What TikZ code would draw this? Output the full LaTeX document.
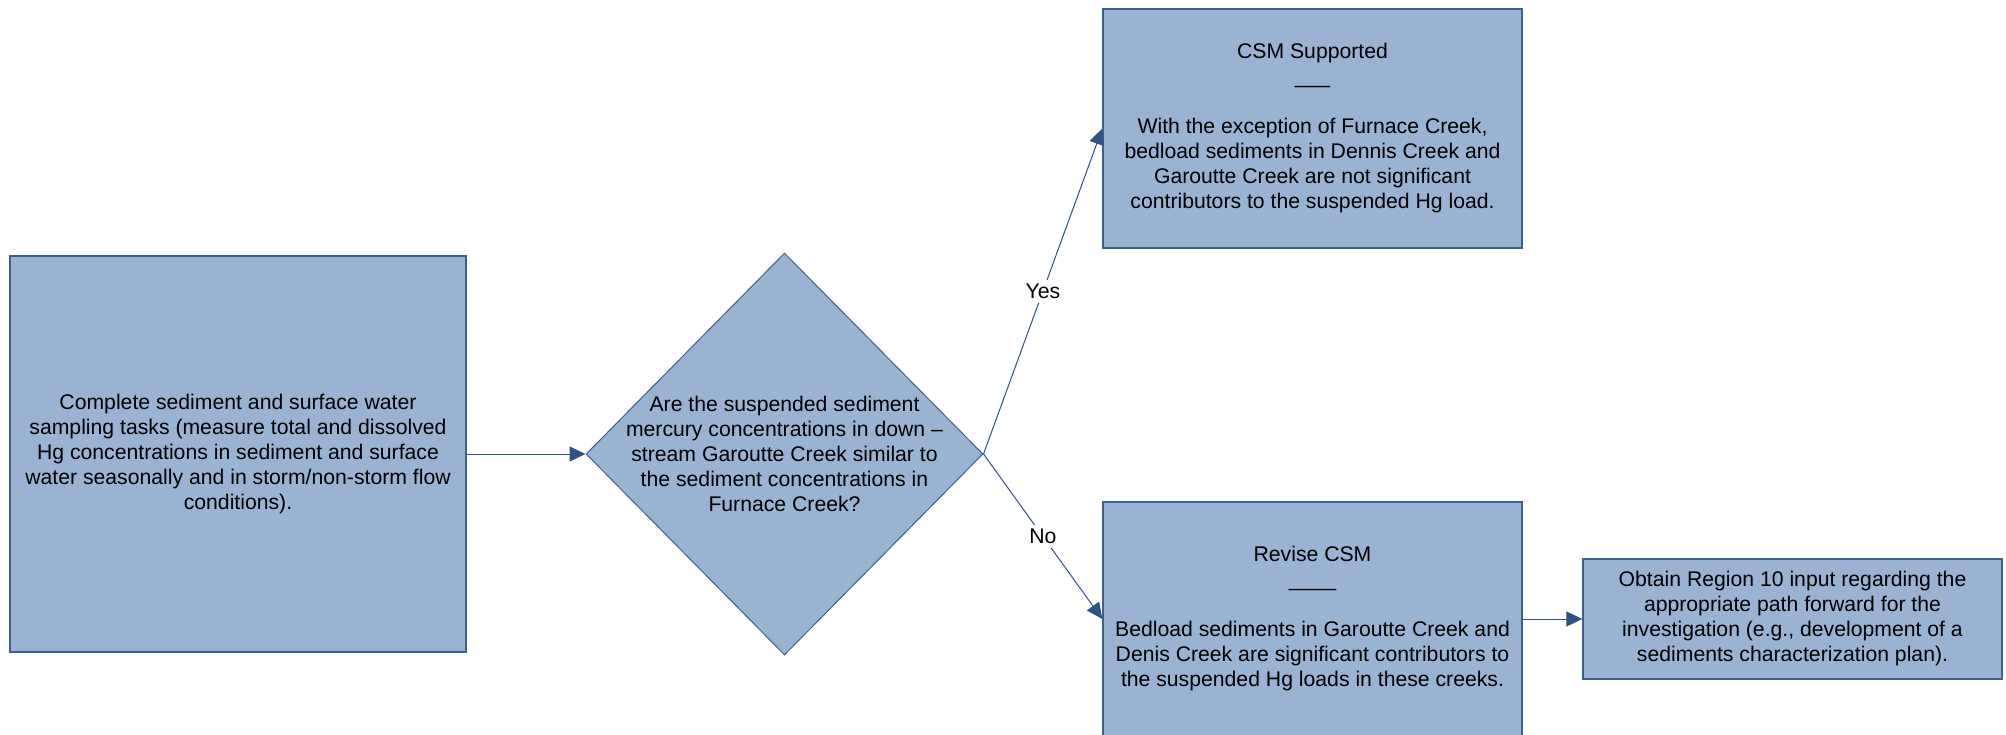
\documentclass[tikz,border=0pt]{standalone}
\usepackage{fontspec}
\setmainfont{Liberation Sans}
\usetikzlibrary{shapes.geometric,arrows.meta}
\definecolor{boxfill}{RGB}{154,179,210}
\definecolor{boxline}{RGB}{62,96,140}
\definecolor{conline}{RGB}{45,82,134}
\begin{document}
\begin{tikzpicture}[x=0.5pt,y=-0.5pt,
  every node/.style={font=\fontsize{10.6}{12.5}\selectfont, text=black},
  procbox/.style={draw=boxline, line width=0.7pt, fill=boxfill, rectangle, inner sep=0pt, align=center},
  decision/.style={draw=boxline, line width=0.5pt, fill=boxfill, diamond, inner sep=0pt, minimum width=198.5pt, minimum height=201pt},
  plaintext/.style={inner sep=0pt, align=center},
  conn/.style={draw=conline, line width=0.5pt, -{Triangle[length=8pt,width=7.5pt]}},
  lab/.style={fill=white, inner sep=2pt, midway}
]
\clip (0,0) rectangle (2006,734);
\fill[white] (0,0) rectangle (2006,734);

\node[procbox, minimum width=228pt, minimum height=198pt] (start) at (238,454)
  {Complete sediment and surface water\\
   sampling tasks (measure total and dissolved\\
   Hg concentrations in sediment and surface\\
   water seasonally and in storm/non-storm flow\\
   conditions).};

\node[decision] (dia) at (784.5,454) {};
\node[plaintext] (diatext) at (dia.center)
  {Are the suspended sediment\\
   mercury concentrations in down \textendash\\
   stream Garoutte Creek similar to\\
   the sediment concentrations in\\
   Furnace Creek?};

\node[procbox, minimum width=209.5pt, minimum height=119.5pt] (csm) at (1312.5,128.5)
  {CSM Supported\\
   \_\_\_\\[12.5pt]
   With the exception of Furnace Creek,\\
   bedload sediments in Dennis Creek and\\
   Garoutte Creek are not significant\\
   contributors to the suspended Hg load.};

\node[procbox, minimum width=209.5pt, minimum height=117pt] (rev) at (1312.5,619)
  {Revise CSM\\
   \_\_\_\_\\[12.5pt]
   Bedload sediments in Garoutte Creek and\\
   Denis Creek are significant contributors to\\
   the suspended Hg loads in these creeks.};

\node[procbox, minimum width=209.5pt, minimum height=60pt] (obt) at (1792.5,619)
  {Obtain Region 10 input regarding the\\
   appropriate path forward for the\\
   investigation (e.g., development of a\\
   sediments characterization plan).};

\draw[conn] (start.east) -- (dia.west);
\draw[conn] (dia.east) -- node[lab] (yes) {Yes} (csm.west);
\draw[conn] (dia.east) -- node[lab] (no) {No} (rev.west);
\draw[conn] (rev.east) -- (obt.west);
\end{tikzpicture}
\end{document}
